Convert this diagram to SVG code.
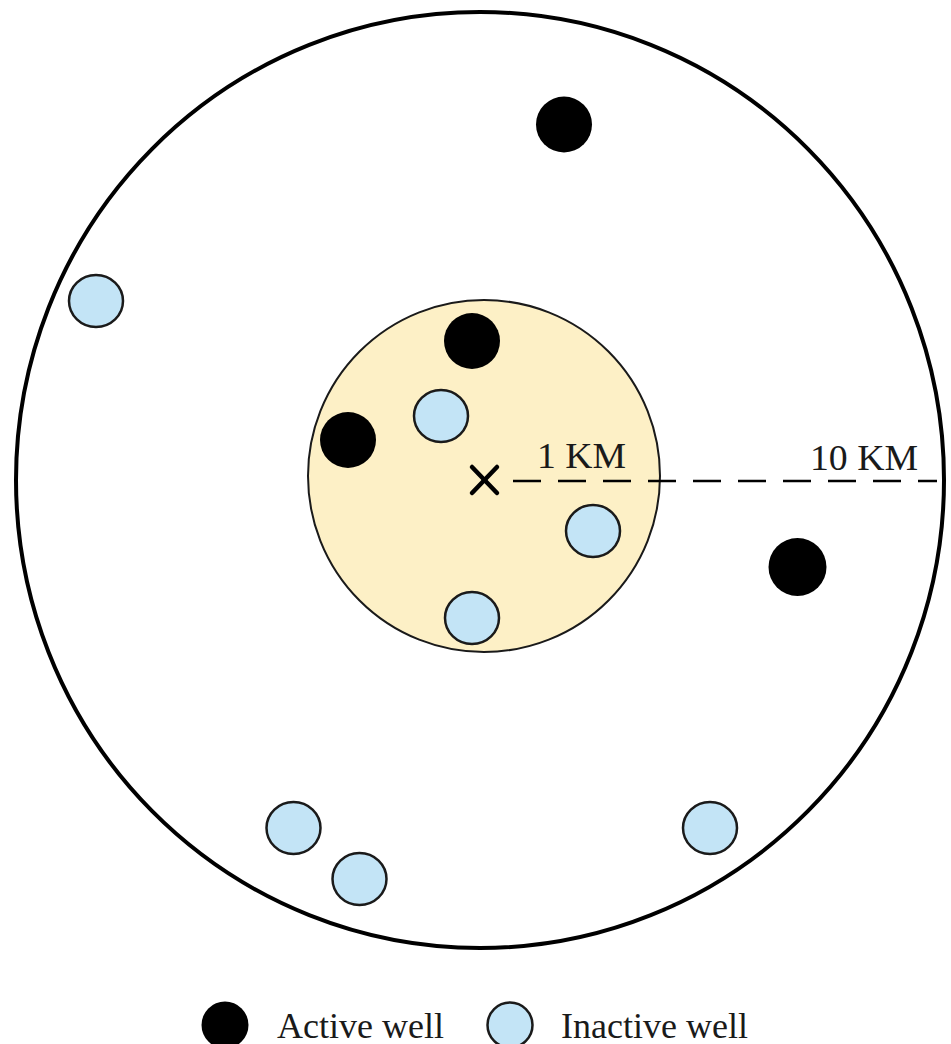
<svg xmlns="http://www.w3.org/2000/svg" width="951" height="1044" viewBox="0 0 951 1044">
<style>
.active{fill:#000000;stroke:none}
.inactive{fill:#c3e4f6;stroke:#1a1a1a;stroke-width:2.5}
.lbl{font-family:"Liberation Serif","Times New Roman",serif;font-size:36px;fill:#1a1a1a}
</style>
<rect width="951" height="1044" fill="#ffffff"/>
<g id="zone-10km"><ellipse cx="480" cy="480" rx="464" ry="468" fill="#ffffff" stroke="#000000" stroke-width="4"/></g>
<g id="zone-1km"><circle cx="484" cy="476" r="176" fill="#fdf0c6" stroke="#1a1a1a" stroke-width="2"/></g>
<g id="connectors">
<line x1="513" y1="481" x2="937" y2="481" stroke="#000000" stroke-width="2.5" stroke-dasharray="28 17"/>
</g>
<g id="center-x" stroke="#000000" stroke-width="4.5" stroke-linecap="round">
<line x1="472" y1="467" x2="497" y2="493"/>
<line x1="497" y1="467" x2="472" y2="493"/>
</g>
<g id="label-1km"><text class="lbl" x="537" y="468" textLength="89" lengthAdjust="spacingAndGlyphs">1 KM</text></g>
<g id="label-10km"><text class="lbl" x="810" y="470" textLength="108" lengthAdjust="spacingAndGlyphs">10 KM</text></g>
<g id="active-1"><circle class="active" cx="564" cy="124.5" r="28"/></g>
<g id="active-2"><circle class="active" cx="472" cy="341" r="28"/></g>
<g id="active-3"><circle class="active" cx="348" cy="440" r="28"/></g>
<g id="active-4"><circle class="active" cx="797.5" cy="567" r="29"/></g>
<g id="inactive-1"><ellipse class="inactive" cx="96" cy="301" rx="27" ry="26"/></g>
<g id="inactive-2"><ellipse class="inactive" cx="441" cy="416" rx="27" ry="26"/></g>
<g id="inactive-3"><ellipse class="inactive" cx="593" cy="531" rx="27" ry="26"/></g>
<g id="inactive-4"><ellipse class="inactive" cx="472" cy="618" rx="27" ry="26"/></g>
<g id="inactive-5"><ellipse class="inactive" cx="293.5" cy="828" rx="27" ry="26"/></g>
<g id="inactive-6"><ellipse class="inactive" cx="359.5" cy="879" rx="27" ry="26"/></g>
<g id="inactive-7"><ellipse class="inactive" cx="710" cy="828" rx="27" ry="26"/></g>
<g id="legend-active">
<circle class="active" cx="225" cy="1025" r="23.5"/>
<text class="lbl" x="277" y="1038">Active well</text>
</g>
<g id="legend-inactive">
<circle class="inactive" cx="510" cy="1025" r="22.5"/>
<text class="lbl" x="561" y="1038">Inactive well</text>
</g>
</svg>
